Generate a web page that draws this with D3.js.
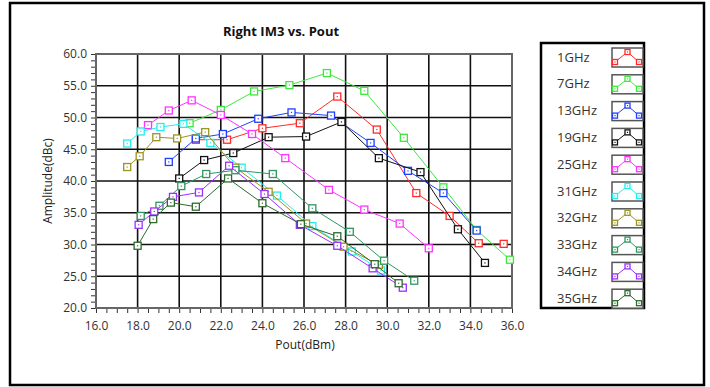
<!DOCTYPE html>
<html>
<head>
<meta charset="utf-8">
<script src="https://cdn.jsdelivr.net/npm/d3@7"></script>
<style>
  body { margin: 0; background: #fff; }
  svg text { font-family: "Open Sans", "DejaVu Sans", sans-serif; }
</style>
</head>
<body>
<svg id="chart" width="710" height="387"></svg>
<script>
// series: [Pout (dBm), IM3 (dBc)]
var s1GHz  = [[20.8,46.5],[22.3,46.5],[24.0,48.3],[25.8,49.1],[27.6,53.3],[29.5,48.1],[31.4,38.1],[33.0,34.5],[34.4,30.2],[35.6,30.1]];
var s7GHz  = [[20.5,49.1],[22.0,51.2],[23.6,54.1],[25.3,55.1],[27.1,57.0],[28.9,54.2],[30.8,46.8],[32.7,39.0],[34.3,32.3],[35.9,27.6]];
var s13GHz = [[19.5,43.0],[20.8,46.7],[22.1,47.4],[23.8,49.8],[25.4,50.8],[27.3,50.3],[29.2,46.0],[31.0,41.6],[32.7,38.1],[34.3,32.2]];
var s19GHz = [[20.0,40.4],[21.2,43.3],[22.6,44.4],[24.3,46.9],[26.1,47.0],[27.8,49.3],[29.6,43.6],[31.6,41.4],[33.4,32.4],[34.7,27.1]];
var s25GHz = [[18.5,48.8],[19.5,51.1],[20.6,52.7],[22.0,50.4],[23.5,47.4],[25.1,43.6],[27.2,38.6],[28.9,35.5],[30.6,33.3],[32.0,29.4]];
var s31GHz = [[17.5,45.9],[18.15,47.8],[19.1,48.5],[20.2,49.0],[21.5,46.0],[23.0,42.1],[24.7,37.7],[26.4,32.9],[28.3,28.9],[29.7,25.9]];
var s32GHz = [[17.5,42.2],[18.1,43.9],[18.9,46.9],[19.9,46.7],[21.25,47.7],[22.7,42.1],[24.3,38.3],[26.1,33.3],[27.9,29.65],[29.6,26.8]];
var s33GHz = [[18.15,34.5],[19.05,36.1],[20.1,39.2],[21.3,41.1],[22.7,41.7],[24.5,41.1],[26.4,35.7],[28.2,32.0],[29.85,27.45],[31.3,24.3]];
var s34GHz = [[18.05,33.1],[18.8,35.2],[19.7,37.5],[20.95,38.2],[22.4,42.4],[24.1,37.95],[25.8,33.1],[27.6,29.8],[29.3,26.25],[30.75,23.2]];
var s35GHz = [[18.0,29.8],[18.75,34.0],[19.6,36.6],[20.8,35.95],[22.35,40.4],[24.0,36.5],[25.85,33.2],[27.6,31.3],[29.4,26.9],[30.55,23.9]];

var seriesNames  = ["1GHz", "7GHz", "13GHz", "19GHz", "25GHz", "31GHz", "32GHz", "33GHz", "34GHz", "35GHz"];
var seriesData   = [s1GHz, s7GHz, s13GHz, s19GHz, s25GHz, s31GHz, s32GHz, s33GHz, s34GHz, s35GHz];
var seriesColors = ["#ff2a2a", "#3ee83e", "#1f3fff", "#111111", "#ff33ff", "#22eeee", "#9a9422", "#2f9660", "#9b30ff", "#2e6a2e"];

var xTicks = [16, 18, 20, 22, 24, 26, 28, 30, 32, 34, 36];
var yTicks = [20, 25, 30, 35, 40, 45, 50, 55, 60];

var svg = d3.select("#chart");
var plot = { left: 96, top: 54, right: 512, bottom: 308 };

// outer frame
svg.append("rect")
    .attr("x", 10).attr("y", 3).attr("width", 694).attr("height", 382)
    .attr("fill", "#fff").attr("stroke", "#000").attr("stroke-width", 2.5);

var x = d3.scaleLinear().domain([16, 36]).range([plot.left, plot.right]);
var y = d3.scaleLinear().domain([20, 60]).range([plot.bottom, plot.top]);

svg.append("text")
    .attr("x", 281).attr("y", 36)
    .attr("text-anchor", "middle")
    .attr("font-size", 13).attr("font-weight", "bold")
    .attr("fill", "#111")
    .text("Right IM3 vs. Pout");

// grid
var grid = svg.append("g");
grid.selectAll("line.v").data(xTicks.slice(1, -1)).enter().append("line")
    .attr("x1", function (d) { return x(d); }).attr("x2", function (d) { return x(d); })
    .attr("y1", plot.top).attr("y2", plot.bottom)
    .attr("stroke", "#111").attr("stroke-width", 1.6);
grid.selectAll("line.h").data(yTicks.slice(1, -1)).enter().append("line")
    .attr("y1", function (d) { return y(d); }).attr("y2", function (d) { return y(d); })
    .attr("x1", plot.left).attr("x2", plot.right)
    .attr("stroke", "#111").attr("stroke-width", 1.6);
svg.append("rect")
    .attr("x", plot.left).attr("y", plot.top)
    .attr("width", plot.right - plot.left).attr("height", plot.bottom - plot.top)
    .attr("fill", "none").attr("stroke", "#666").attr("stroke-width", 2);

// axes with minor ticks
var xMinor = d3.range(16, 36.01, 0.5);
var yMinor = d3.range(20, 60.01, 1);
var xAxis = svg.append("g").attr("transform", "translate(0," + (plot.bottom + 1) + ")")
    .call(d3.axisBottom(x).tickValues(xMinor).tickSize(4).tickFormat(""));
xAxis.select(".domain").remove();
xAxis.selectAll("line").attr("stroke", "#333");
var xLab = svg.append("g").attr("transform", "translate(0," + (plot.bottom + 1) + ")")
    .call(d3.axisBottom(x).tickValues(xTicks).tickSize(0).tickPadding(12).tickFormat(d3.format(".1f")));
xLab.select(".domain").remove();
xLab.selectAll("text").attr("font-size", 12).attr("fill", "#333")
    .style("font-family", "'Open Sans', sans-serif");

var yAxis = svg.append("g").attr("transform", "translate(" + (plot.left - 1) + ",0)")
    .call(d3.axisLeft(y).tickValues(yMinor).tickSize(4).tickFormat(""));
yAxis.select(".domain").remove();
yAxis.selectAll("line").attr("stroke", "#333");
var yLab = svg.append("g").attr("transform", "translate(" + (plot.left - 1) + ",0)")
    .call(d3.axisLeft(y).tickValues(yTicks).tickSize(0).tickPadding(8).tickFormat(d3.format(".1f")));
yLab.select(".domain").remove();
yLab.selectAll("text").attr("font-size", 12).attr("fill", "#333")
    .style("font-family", "'Open Sans', sans-serif");

svg.append("text")
    .attr("x", 305).attr("y", 349)
    .attr("text-anchor", "middle").attr("font-size", 12).attr("fill", "#222")
    .text("Pout(dBm)");
svg.append("text")
    .attr("transform", "translate(52,181) rotate(-90)")
    .attr("text-anchor", "middle").attr("font-size", 12).attr("fill", "#222")
    .text("Amplitude(dBc)");

// series
var line = d3.line().x(function (d) { return x(d[0]); }).y(function (d) { return y(d[1]); });
function drawMarkers(g, pts, color, size) {
    var h = size / 2;
    g.selectAll("rect.m").data(pts).enter().append("rect")
        .attr("x", function (d) { return d[0] - h; }).attr("y", function (d) { return d[1] - h; })
        .attr("width", size).attr("height", size)
        .attr("fill", "#fff").attr("stroke", color).attr("stroke-width", 1.3);
    g.selectAll("rect.c").data(pts).enter().append("rect")
        .attr("x", function (d) { return d[0] - 0.6; }).attr("y", function (d) { return d[1] - 0.6; })
        .attr("width", 1.2).attr("height", 1.2).attr("fill", color);
}
seriesData.forEach(function (data, i) {
    var g = svg.append("g");
    g.append("path").attr("d", line(data))
        .attr("fill", "none").attr("stroke", seriesColors[i]).attr("stroke-width", 1);
    drawMarkers(g, data.map(function (d) { return [x(d[0]), y(d[1])]; }), seriesColors[i], 7);
});

// legend
var legend = svg.append("g");
legend.append("rect")
    .attr("x", 541).attr("y", 43).attr("width", 103).attr("height", 265)
    .attr("fill", "#fff").attr("stroke", "#000").attr("stroke-width", 2.5);
seriesNames.forEach(function (name, i) {
    var cy = 57 + i * 26.8;
    var g = legend.append("g");
    g.append("text")
        .attr("x", 557).attr("y", cy + 4.5)
        .attr("font-size", 13).attr("fill", "#333")
        .text(name);
    g.append("rect")
        .attr("x", 612).attr("y", cy - 9).attr("width", 31).attr("height", 19)
        .attr("fill", "#fff").attr("stroke", "#555").attr("stroke-width", 1.5);
    var pts = [[615, cy + 5], [627.5, cy - 5], [639, cy + 5]];
    g.append("path").attr("d", d3.line()(pts))
        .attr("fill", "none").attr("stroke", seriesColors[i]).attr("stroke-width", 1);
    drawMarkers(g, pts, seriesColors[i], 5);
});
</script>
</body>
</html>
